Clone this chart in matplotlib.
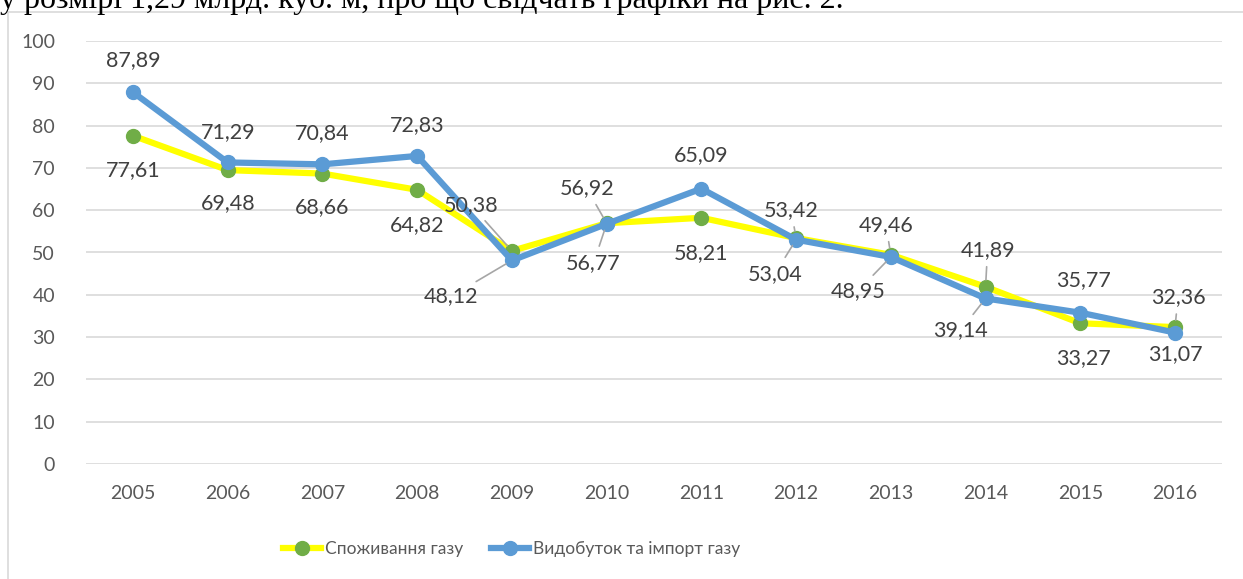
import matplotlib.pyplot as plt
from matplotlib.patches import Rectangle

years = ["2005", "2006", "2007", "2008", "2009", "2010",
         "2011", "2012", "2013", "2014", "2015", "2016"]
consumption = [77.61, 69.48, 68.66, 64.82, 50.38, 56.92,
               58.21, 53.42, 49.46, 41.89, 33.27, 32.36]
supply = [87.89, 71.29, 70.84, 72.83, 48.12, 56.77,
          65.09, 53.04, 48.95, 39.14, 35.77, 31.07]

# label offsets in pixels (dx, dy) and whether a leader line is drawn
cons_offsets = [(0, -34), (0, -33), (0, -34), (0, -35), (-41, 46), (-20, 35),
                (0, -35), (-5, 28), (-5, 30), (2, 37), (3, -35), (3, 30)]
cons_leader = [False, False, False, False, True, True,
               False, True, True, True, False, True]
supp_offsets = [(0, 32), (0, 30), (0, 31), (0, 31), (-61, -36), (-13, -39),
                (0, 34), (-21, -34), (-33, -34), (-25, -32), (3, 33), (0, -22)]
supp_leader = [False, False, False, False, True, True,
               False, True, True, True, False, False]

W, H = 1243, 579
fig = plt.figure(figsize=(W / 100, H / 100), dpi=100)
plt.rcParams['font.family'] = ['Lato', 'DejaVu Sans']

# chart frame
fig.patches.append(Rectangle((8 / W, -0.1), 1.2, 1 - 12 / H + 0.1,
                             transform=fig.transFigure, fill=False,
                             edgecolor='#D9D9D9', lw=1.2))

# clipped line of document text above the chart
fig.text(0, 1 - 8 / H, "у розмірі 1,29 млрд. куб. м, про що свідчать графіки на рис. 2.",
         family='Liberation Serif', fontsize=23, va='baseline', ha='left', color='black')

ax = fig.add_axes([85.6 / W, 115 / H, (1222.4 - 85.6) / W, 423 / H])
x = list(range(len(years)))

ax.plot(x, consumption, color='#FFFF00', lw=4.5, marker='o', ms=10,
        mfc='#70AD47', mec='#70AD47', label='Споживання газу', zorder=3)
ax.plot(x, supply, color='#5B9BD5', lw=4.5, marker='o', ms=10,
        mfc='#5B9BD5', mec='#5B9BD5', label='Видобуток та імпорт газу', zorder=4)

ax.set_xlim(-0.5, len(years) - 0.5)
ax.set_ylim(0, 100)
ax.set_yticks(range(0, 101, 10))
ax.set_xticks(x)
ax.set_xticklabels(years)
ax.grid(axis='y', color='#D9D9D9', lw=1.2)
ax.set_axisbelow(True)
for s in ax.spines.values():
    s.set_visible(False)
ax.tick_params(length=0, labelsize=14, colors='#595959')
ax.tick_params(axis='x', pad=15)
ax.tick_params(axis='y', pad=22)


def add_labels(values, offsets, leaders):
    for i, v in enumerate(values):
        dx, dy = offsets[i]
        txt = f"{v:.2f}".replace('.', ',')
        props = None
        if leaders[i]:
            props = dict(arrowstyle='-', color='#A6A6A6', lw=1.2, shrinkA=3, shrinkB=5)
        ax.annotate(txt, (i, v), xytext=(dx, dy), textcoords='offset pixels',
                    ha='center', va='center', fontsize=15.5, color='#404040',
                    arrowprops=props, zorder=5)


add_labels(consumption, cons_offsets, cons_leader)
add_labels(supply, supp_offsets, supp_leader)

fig.legend(loc='center', bbox_to_anchor=(511.5 / W, 1 - 549 / H), ncol=2, frameon=False,
           fontsize=12.5, labelcolor='#595959', handlelength=2.2, columnspacing=1.6,
           handletextpad=0.2)

fig.savefig('out.png', dpi=100)
